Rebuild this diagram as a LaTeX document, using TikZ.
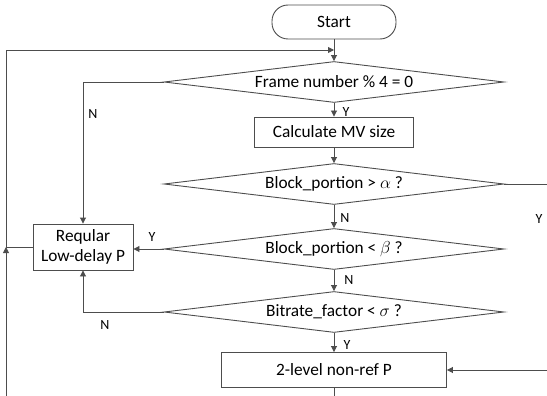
\documentclass[tikz,border=0pt]{standalone}
\usepackage{amsmath,amssymb}
\usepackage{fontspec}
\setmainfont{Carlito}
\usepackage{tikz}
\usetikzlibrary{arrows.meta,positioning,shapes.geometric,calc}
\definecolor{ink}{HTML}{000000}
\definecolor{wire}{HTML}{4D4D4D}
\tikzset{
  termbox/.style={draw=wire,fill=white,line width=0.9pt,rounded corners=16pt,
                  minimum width=124pt,minimum height=34pt,inner sep=0pt,
                  font=\fontsize{17.3}{20}\selectfont,text=ink},
  procbox/.style={draw=wire,fill=white,line width=0.9pt,align=center,
                  inner sep=0pt,font=\fontsize{17.3}{20}\selectfont,text=ink},
  testbox/.style={draw=wire,fill=white,line width=0.9pt,diamond,aspect=8,
                  inner sep=0pt,minimum width=340pt,minimum height=41pt,
                  font=\fontsize{17.3}{20}\selectfont,text=ink},
  flowarr/.style={-{Triangle[length=6pt,width=6pt]},line width=0.9pt,draw=wire},
  flowline/.style={line width=0.9pt,draw=wire},
  yn/.style={font=\fontsize{14}{16}\selectfont,text=ink,inner sep=0pt}
}
\begin{document}
\begin{tikzpicture}[x=1pt,y=-1pt]
    \path[use as bounding box] (0,0) rectangle (547,396);
    \node[termbox] (start) at (334,22) {Start};
    \node[testbox] (fnum) at (334,82) {Frame number \% 4 = 0};
    \node[procbox,minimum width=159pt,minimum height=30pt] (mv) at (334,132)
      {Calculate MV size};
    \node[testbox] (alpha) at (334,184) {Block\_portion > $\alpha$ ?};
    \node[testbox] (beta) at (334,249) {Block\_portion < $\beta$ ?};
    \node[testbox] (sigma) at (334,312) {Bitrate\_factor < $\sigma$ ?};
    \node[procbox,minimum width=100pt,minimum height=46pt] (reg) at (83,247)
      {Reqular\\Low-delay P};
    \node[procbox,minimum width=225pt,minimum height=35pt] (nonref) at (334,370)
      {2-level non-ref P};
    \coordinate (merge) at (334,50);
    \coordinate (lefttop) at (6,50);
    \coordinate (leftbot) at (6,396);
    \coordinate (rightup) at (547,184);
    \coordinate (rightlow) at (547,370);
    \coordinate (downout) at (334,396);
    % main column
    \draw[flowarr] (start) -- (fnum);
    \draw[flowarr] (fnum) -- (mv);
    \draw[flowarr] (mv) -- (alpha);
    \draw[flowarr] (alpha) -- (beta);
    \draw[flowarr] (beta) -- (sigma);
    \draw[flowarr] (sigma) -- (nonref);
    \draw[flowline] (nonref) -- (downout);
    % branches to the regular P box
    \draw[flowarr] (fnum.west) -| (reg.north);
    \draw[flowarr] (beta.west) -- (beta.west -| reg.east);
    \draw[flowarr] (sigma.west) -| (reg.south);
    % loop back to the top
    \draw[flowarr] (leftbot) -- (leftbot |- reg.west);
    \draw[flowarr] (reg.west) -| (lefttop) -- (merge);
    % right side
    \draw[flowline] (alpha.east) -- (rightup);
    \draw[flowarr] (rightlow) -- (nonref.east);
    % labels
    \node[yn] (n1) at (93,114) {N};
    \node[yn] (y1) at (346,112) {Y};
    \node[yn] (n2) at (345,218) {N};
    \node[yn] (y2) at (539,219) {Y};
    \node[yn] (y3) at (152,237) {Y};
    \node[yn] (n3) at (349,280) {N};
    \node[yn] (n4) at (105,325) {N};
    \node[yn] (y4) at (347,345) {Y};
  \end{tikzpicture}
\end{document}
